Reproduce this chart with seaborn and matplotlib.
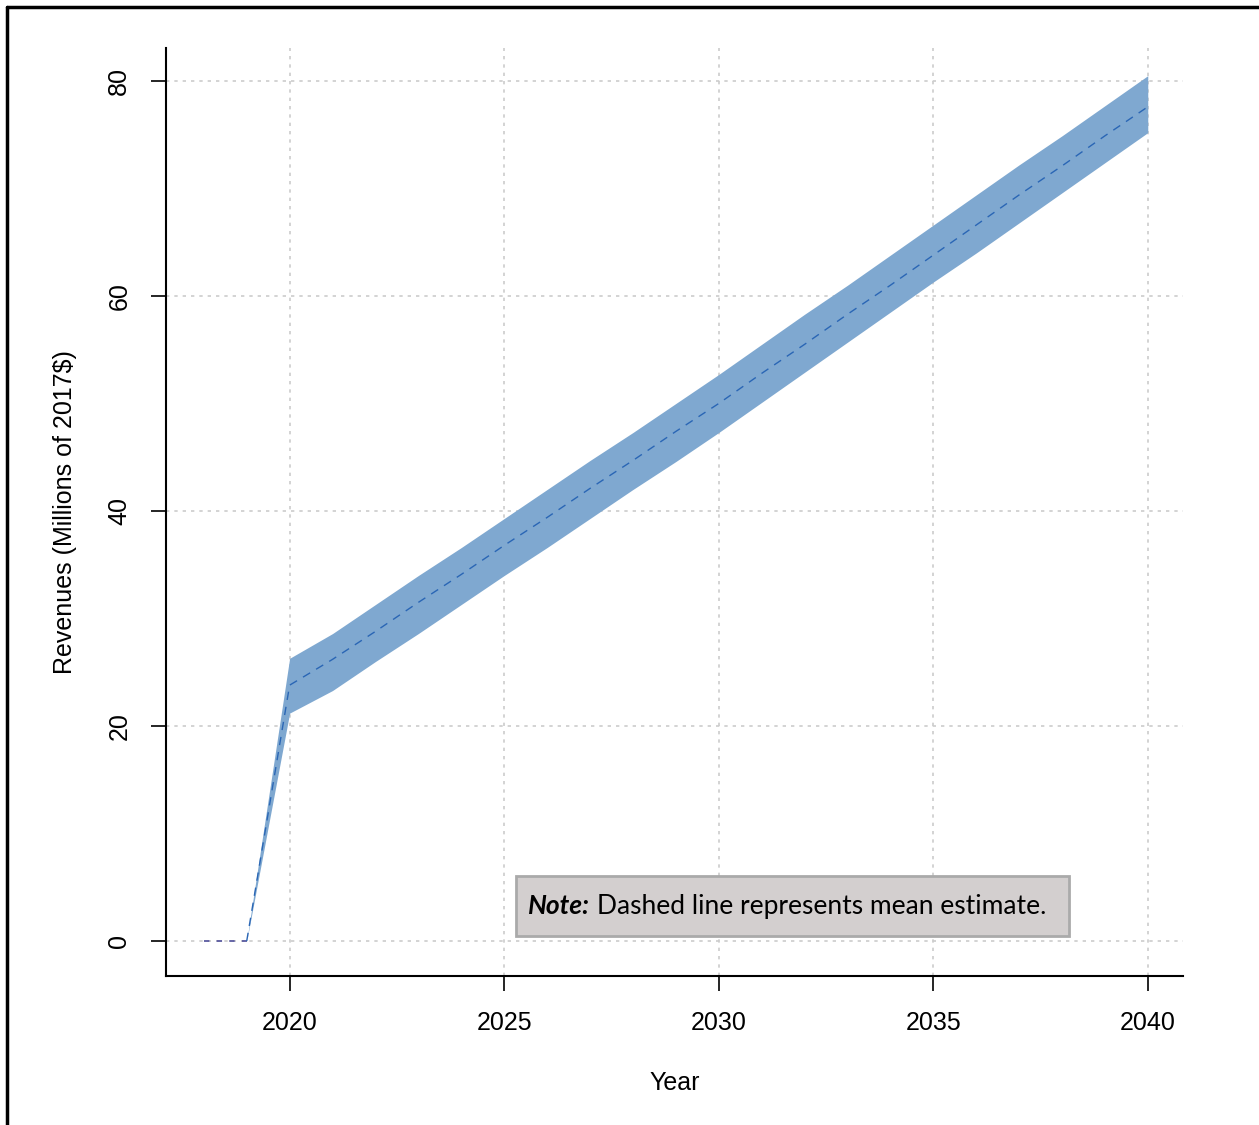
import numpy as np
import pandas as pd
import matplotlib
matplotlib.use("Agg")
import matplotlib.pyplot as plt
import seaborn as sns
from matplotlib.lines import Line2D

# revenue estimates (millions of 2017$)
years = list(range(2018, 2041))
mean_est = [0, 0, 23.8, 26.2, 28.8, 31.5, 34.1, 36.8, 39.4, 42.1, 44.7, 47.4,
            50.0, 52.8, 55.5, 58.3, 61.0, 63.8, 66.6, 69.4, 72.1, 74.9, 77.6]
upper_est = [0, 0, 26.3, 28.6, 31.3, 34.0, 36.6, 39.3, 42.0, 44.7, 47.3, 50.0,
             52.7, 55.5, 58.3, 61.0, 63.8, 66.6, 69.4, 72.2, 74.9, 77.7, 80.5]
lower_est = [0, 0, 21.2, 23.3, 26.0, 28.6, 31.3, 34.0, 36.6, 39.3, 42.0, 44.6,
             47.3, 50.1, 52.9, 55.7, 58.5, 61.3, 64.0, 66.8, 69.6, 72.4, 75.2]

x_ticks = [2020, 2025, 2030, 2035, 2040]
y_ticks = [0, 20, 40, 60, 80]

df = pd.DataFrame({"year": years, "mean": mean_est,
                   "upper": upper_est, "lower": lower_est})

sns.set_theme(style="white")
plt.rcParams['font.family'] = ['Liberation Sans', 'DejaVu Sans']
plt.rcParams['text.color'] = 'black'
plt.rcParams['axes.labelcolor'] = 'black'

fig = plt.figure(figsize=(12.59, 11.25), dpi=100)
ax = fig.add_axes([0.1319, 0.1324, 0.8077, 0.8249])

# grid like R's grid()
for xv in x_ticks:
    ax.axvline(xv, color="#cccccc", lw=1.2, ls=(0, (2, 3)), zorder=0)
for yv in y_ticks:
    ax.axhline(yv, color="#cccccc", lw=1.2, ls=(0, (2, 3)), zorder=0)

ax.fill_between(df["year"], df["lower"], df["upper"], color="#7fa8d0",
                lw=0, zorder=2)
flat = df[df["year"] <= 2019]
rest = df[df["year"] >= 2019]
sns.lineplot(data=flat, x="year", y="mean", ax=ax, color="#5a5aa0",
             lw=1.3, ls=(0, (3, 4)), zorder=3)
sns.lineplot(data=rest, x="year", y="mean", ax=ax, color="#2a66b5",
             lw=1.0, ls=(0, (6, 5)), zorder=3)

ax.set_xlim(2017.12, 2040.82)
ax.set_ylim(-3.26, 83.07)
ax.set_xticks(x_ticks)
ax.set_yticks(y_ticks)
ax.set_yticklabels([str(v) for v in y_ticks], rotation=90, va="center")

for s in ["top", "right"]:
    ax.spines[s].set_visible(False)
for s in ["left", "bottom"]:
    ax.spines[s].set_color("black")
    ax.spines[s].set_linewidth(1.5)

ax.tick_params(axis="both", direction="out", length=11, width=1.2,
               colors="black", labelsize=18, pad=14, left=True, bottom=True)

ax.set_xlabel("Year", fontsize=18, labelpad=26)
ax.set_ylabel("Revenues (Millions of 2017$)", fontsize=18, labelpad=22)

# note box
ax.add_patch(plt.Rectangle((2025.27, 0.47), 12.89, 5.58,
                           facecolor="#d3cfcf", edgecolor="#aaaaaa",
                           lw=2, zorder=5))
note = ax.text(2025.55, 3.25, "Note:", fontsize=19, fontweight="bold",
               fontstyle="italic", family=["Lato", "DejaVu Sans"],
               va="center", ha="left", zorder=6)
fig.canvas.draw()
bb = note.get_window_extent().transformed(ax.transData.inverted())
ax.text(bb.x1 + 0.16, 3.25, "Dashed line represents mean estimate.",
        fontsize=19, family=["Lato", "DejaVu Sans"], va="center",
        ha="left", zorder=6)

# figure frame on top and left
fig.add_artist(Line2D([0.0055, 1], [0.9938, 0.9938], color="black", lw=2.5,
                      transform=fig.transFigure))
fig.add_artist(Line2D([0.0055, 0.0055], [0, 0.9938], color="black", lw=2.5,
                      transform=fig.transFigure))

fig.savefig("out.png", dpi=100)
